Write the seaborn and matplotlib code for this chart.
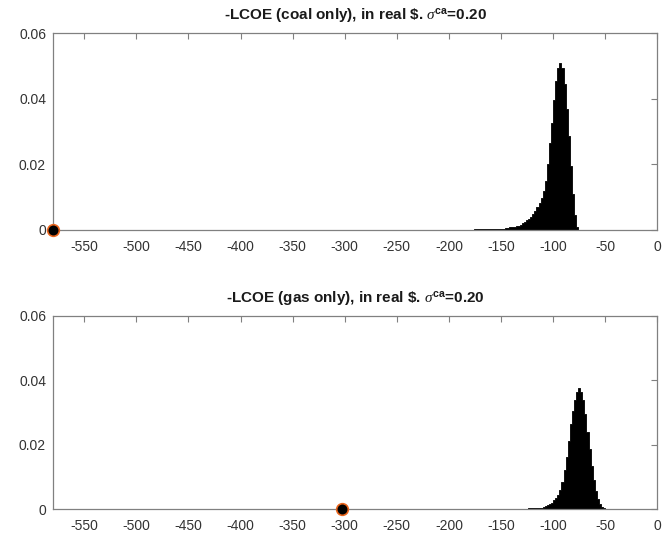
import numpy as np
import pandas as pd
import matplotlib
matplotlib.use("Agg")
import matplotlib.pyplot as plt
import seaborn as sns

# Histogram bins (2-unit wide) for -LCOE, coal only
coal_centers = list(range(-175, -76, 2))
coal_probs = [
    0.0002, 0.0002, 0.0003, 0.0002, 0.0003, 0.0003, 0.0003, 0.0002, 0.0003,
    0.0003, 0.0003, 0.0003, 0.0004, 0.0004, 0.0004, 0.0005, 0.0006,
    0.0008, 0.0009, 0.0010, 0.0011, 0.0013, 0.0016, 0.0020, 0.0024, 0.0029,
    0.0034, 0.0040, 0.0048, 0.0057, 0.0070, 0.0083, 0.0098, 0.0120, 0.0150,
    0.0200, 0.0265, 0.0325, 0.0395, 0.0455, 0.0495, 0.0510, 0.0495, 0.0445,
    0.0370, 0.0285, 0.0195, 0.0110, 0.0045, 0.0010,
]

# Histogram bins (2-unit wide) for -LCOE, gas only
gas_centers = list(range(-123, -50, 2))
gas_probs = [
    0.0003, 0.0004, 0.0003, 0.0003, 0.0003, 0.0004, 0.0004, 0.0006, 0.0008,
    0.0012, 0.0015, 0.0020, 0.0027, 0.0034, 0.0043, 0.0058, 0.0085, 0.0120,
    0.0160, 0.0210, 0.0265, 0.0305, 0.0340, 0.0362, 0.0375, 0.0365, 0.0340,
    0.0295, 0.0240, 0.0185, 0.0135, 0.0090, 0.0055, 0.0030, 0.0017, 0.0007,
    0.0002,
]

# Reference points shown on the x axis
coal_point = -580
gas_point = -303

titles = [
    r"-LCOE (coal only), in real \$. $\sigma^{\mathbf{ca}}$=0.20",
    r"-LCOE (gas only), in real \$. $\sigma^{\mathbf{ca}}$=0.20",
]
xticks = list(range(-550, 1, 50))
yticks = [0, 0.02, 0.04, 0.06]
ytick_labels = ["0", "0.02", "0.04", "0.06"]

sns.set_style("white")
plt.rcParams["font.family"] = ["Liberation Sans", "DejaVu Sans"]
plt.rcParams["axes.unicode_minus"] = False
plt.rcParams["mathtext.fontset"] = "custom"
plt.rcParams["mathtext.it"] = "Liberation Serif:italic"
plt.rcParams["mathtext.bf"] = "Liberation Sans:bold"
plt.rcParams["mathtext.rm"] = "Liberation Sans"

fig = plt.figure(figsize=(6.67, 5.38), dpi=100)
ax_top = fig.add_axes([0.0795, 0.5725, 0.906, 0.366])
ax_bot = fig.add_axes([0.0795, 0.0539, 0.906, 0.359])

panels = [
    (ax_top, coal_centers, coal_probs, coal_point, titles[0]),
    (ax_bot, gas_centers, gas_probs, gas_point, titles[1]),
]

for ax, centers, probs, point, title in panels:
    df = pd.DataFrame({"x": centers, "p": probs})
    edges = [c - 1 for c in centers] + [centers[-1] + 1]
    sns.histplot(data=df, x="x", weights="p", bins=edges, stat="count",
                 element="step", fill=True, color="black", alpha=1.0,
                 linewidth=0.6, ax=ax)
    sns.scatterplot(x=[point], y=[0], ax=ax, s=70, color="black",
                    edgecolor="#e8641c", linewidth=1.2, zorder=5, clip_on=False)
    ax.set_xlim(-580, 0)
    ax.set_ylim(0, 0.06)
    ax.set_xticks(xticks)
    ax.set_xticklabels([str(t) for t in xticks])
    ax.set_yticks(yticks)
    ax.set_yticklabels(ytick_labels)
    ax.set_xlabel("")
    ax.set_ylabel("")
    ax.set_title(title, fontsize=11, fontweight="bold", color="#1a1a1a", pad=10)
    ax.tick_params(direction="in", length=4, width=0.8, color="#808080",
                   labelcolor="#333333", labelsize=10,
                   top=True, right=True)
    ax.tick_params(axis="x", pad=7)
    ax.tick_params(axis="y", pad=5)
    for sp in ax.spines.values():
        sp.set_visible(True)
        sp.set_color("#808080")
        sp.set_linewidth(0.9)

fig.savefig("out.png", dpi=100)
